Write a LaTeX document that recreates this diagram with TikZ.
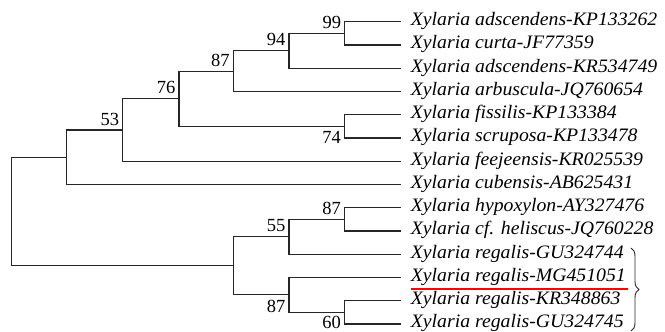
\documentclass[tikz,border=0pt]{standalone}
\usepackage{fontspec}
\setmainfont{Liberation Serif}
\newfontfamily\leaffont[FakeStretch=1.04]{Liberation Serif}
\usetikzlibrary{decorations.pathreplacing}
\tikzset{
  branch/.style={line width=1.15pt, draw=black!85},
  leaflabel/.style={anchor=base west, inner sep=0pt, font=\leaffont\itshape\fontsize{19}{22}\selectfont},
  bsup/.style={anchor=base east, inner sep=0pt, font=\fontsize{18.5}{22}\selectfont},
  bsdown/.style={anchor=north east, inner sep=0pt, font=\fontsize{18.5}{22}\selectfont},
  redline/.style={line width=2pt, draw=red},
  bracestyle/.style={line width=0.9pt, draw=black!85, decorate, decoration={brace, amplitude=8pt}},
}
\begin{document}
\begin{tikzpicture}[x=1pt,y=1pt]
\useasboundingbox (0,0) rectangle (665,-332);
% leaf end points
\coordinate (e1) at (400.7,-21.7);
\coordinate (e2) at (400.7,-44.95);
\coordinate (e3) at (400.7,-68.2);
\coordinate (e4) at (400.7,-91.45);
\coordinate (e5) at (400.7,-114.7);
\coordinate (e6) at (400.7,-137.95);
\coordinate (e7) at (400.7,-161.2);
\coordinate (e8) at (400.7,-184.45);
\coordinate (e9) at (400.7,-207.7);
\coordinate (e10) at (400.7,-230.95);
\coordinate (e11) at (400.7,-254.2);
\coordinate (e12) at (400.7,-277.45);
\coordinate (e13) at (400.7,-300.7);
\coordinate (e14) at (400.7,-323.95);
% internal nodes
\coordinate (n99) at (344.7,-33.3);
\coordinate (n94) at (289,-50.8);
\coordinate (n87a) at (233.3,-71.1);
\coordinate (n74) at (344.5,-126.3);
\coordinate (n76) at (179,-98.7);
\coordinate (n53) at (122.7,-130);
\coordinate (nU) at (66.7,-157.2);
\coordinate (n87h) at (344.5,-219.3);
\coordinate (n55) at (289,-236.8);
\coordinate (n60) at (344.5,-312.3);
\coordinate (n87L) at (289,-294.9);
\coordinate (nL) at (233.3,-265.9);
\coordinate (root) at (11.7,-211.5);
% branches
\draw[branch] (n99) |- (e1); \draw[branch] (n99) |- (e2);
\draw[branch] (n94) |- (n99); \draw[branch] (n94) |- (e3);
\draw[branch] (n87a) |- (n94); \draw[branch] (n87a) |- (e4);
\draw[branch] (n74) |- (e5); \draw[branch] (n74) |- (e6);
\draw[branch] (n76) |- (n87a); \draw[branch] (n76) |- (n74);
\draw[branch] (n53) |- (n76); \draw[branch] (n53) |- (e7);
\draw[branch] (nU) |- (n53); \draw[branch] (nU) |- (e8);
\draw[branch] (n87h) |- (e9); \draw[branch] (n87h) |- (e10);
\draw[branch] (n55) |- (n87h); \draw[branch] (n55) |- (e11);
\draw[branch] (n60) |- (e13); \draw[branch] (n60) |- (e14);
\draw[branch] (n87L) |- (e12); \draw[branch] (n87L) |- (n60);
\draw[branch] (nL) |- (n55); \draw[branch] (nL) |- (n87L);
\draw[branch] (root) |- (nU); \draw[branch] (root) |- (nL);
% bootstrap values
\node[bsup] (b99) at ([shift={(-3.5,5)}]n99) {99};
\node[bsup] (b94) at ([shift={(-3.5,5)}]n94) {94};
\node[bsup] (b87a) at ([shift={(-3.5,5)}]n87a) {87};
\node[bsup] (b76) at ([shift={(-3.5,5)}]n76) {76};
\node[bsup] (b53) at ([shift={(-3.5,5)}]n53) {53};
\node[bsdown] (b74) at ([shift={(-3.5,-5)}]n74) {74};
\node[bsup] (b87h) at ([shift={(-3.5,5)}]n87h) {87};
\node[bsup] (b55) at ([shift={(-3.5,5)}]n55) {55};
\node[bsdown] (b87L) at ([shift={(-3.5,-5)}]n87L) {87};
\node[bsdown] (b60) at ([shift={(-3.5,-4)}]n60) {60};
% leaf labels
\node[leaflabel] (t1) at ([shift={(10,-4)}]e1) {Xylaria adscendens-KP133262};
\node[leaflabel] (t2) at ([shift={(10,-4)}]e2) {Xylaria curta-JF77359};
\node[leaflabel] (t3) at ([shift={(10,-4)}]e3) {Xylaria adscendens-KR534749};
\node[leaflabel] (t4) at ([shift={(10,-4)}]e4) {Xylaria arbuscula-JQ760654};
\node[leaflabel] (t5) at ([shift={(10,-4)}]e5) {Xylaria fissilis-KP133384};
\node[leaflabel] (t6) at ([shift={(10,-4)}]e6) {Xylaria scruposa-KP133478};
\node[leaflabel] (t7) at ([shift={(10,-4)}]e7) {Xylaria feejeensis-KR025539};
\node[leaflabel] (t8) at ([shift={(10,-4)}]e8) {Xylaria cubensis-AB625431};
\node[leaflabel] (t9) at ([shift={(10,-4)}]e9) {Xylaria hypoxylon-AY327476};
\node[leaflabel] (t10) at ([shift={(10,-4)}]e10) {Xylaria cf. heliscus-JQ760228};
\node[leaflabel] (t11) at ([shift={(10,-4)}]e11) {Xylaria regalis-GU324744};
\node[leaflabel] (t12) at ([shift={(10,-4)}]e12) {Xylaria regalis-MG451051};
\node[leaflabel] (t13) at ([shift={(10,-4)}]e13) {Xylaria regalis-KR348863};
\node[leaflabel] (t14) at ([shift={(10,-4)}]e14) {Xylaria regalis-GU324745};
% red underline and brace
\coordinate (r1) at (411,-289.3);
\coordinate (r2) at (628,-289.3);
\draw[redline] (r1) -- (r2);
\coordinate (br1) at (631,-248);
\coordinate (br2) at (631,-331);
\draw[bracestyle] (br1) -- (br2);
\end{tikzpicture}
\end{document}
